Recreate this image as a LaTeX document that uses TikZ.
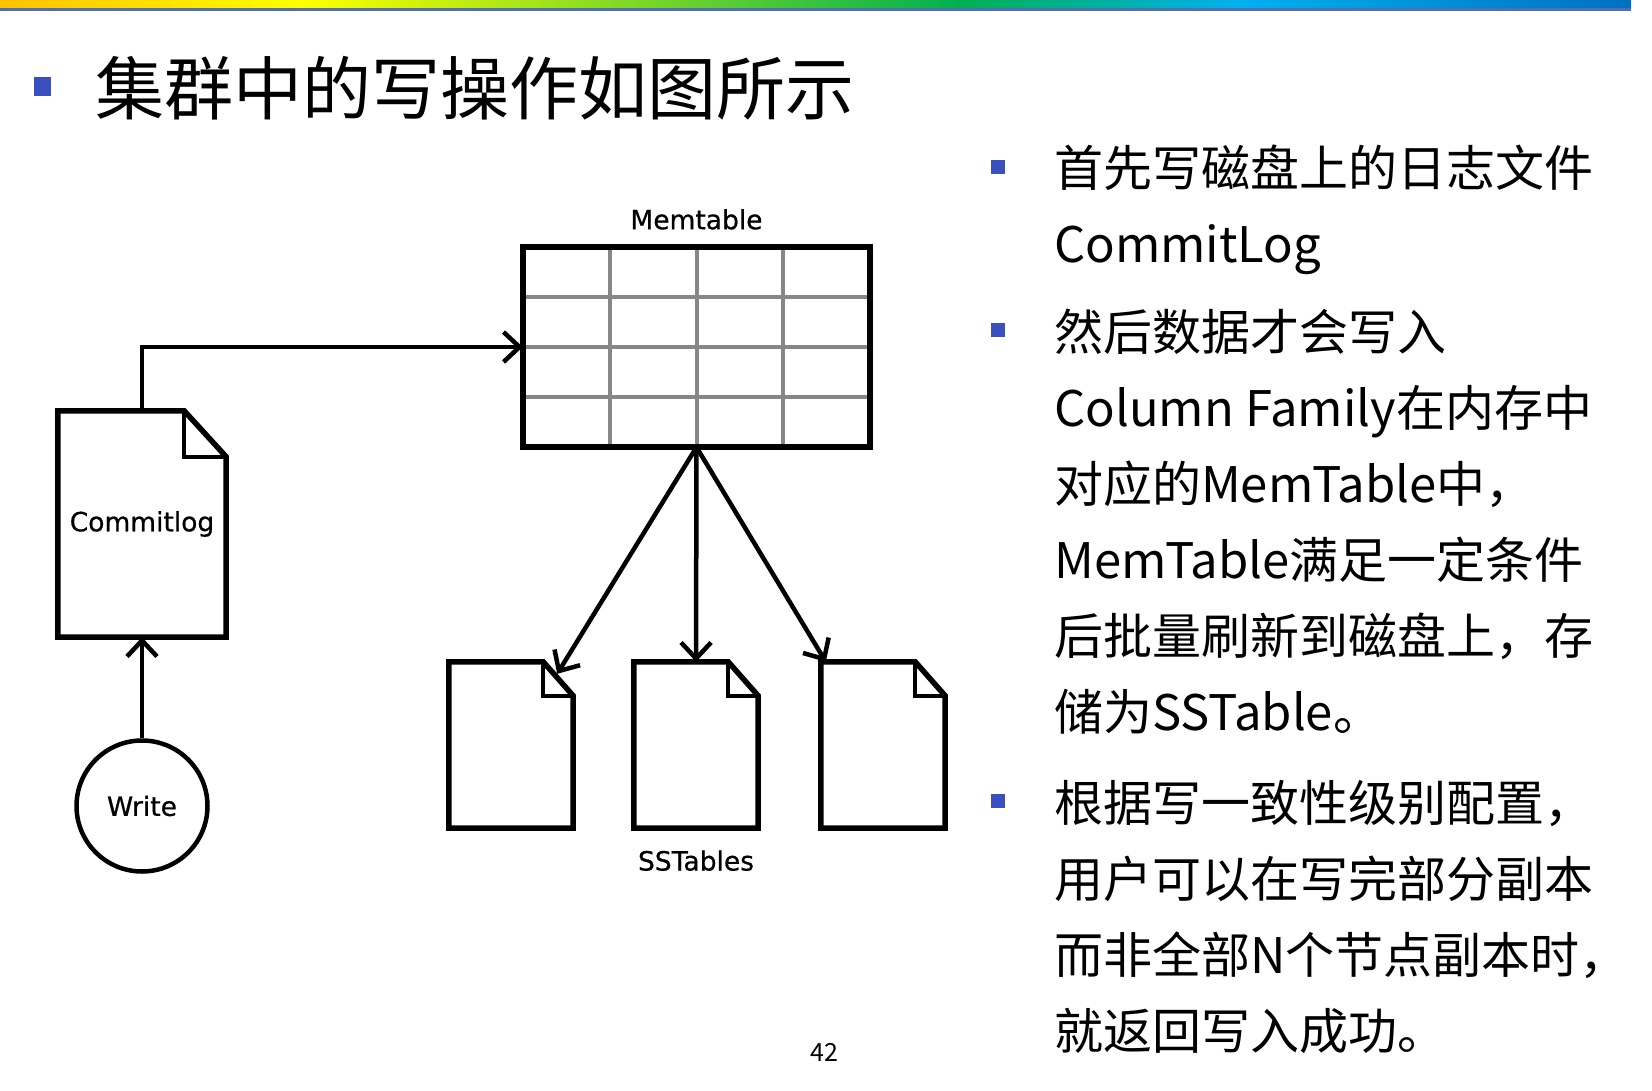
\documentclass[tikz,border=0pt]{standalone}
\usepackage{fontspec}
\setmainfont{Noto Sans CJK SC}
\newfontfamily\labelfont{DejaVu Sans}[FakeBold=0.6]
\usetikzlibrary{arrows.meta,positioning,calc}

\definecolor{barorange}{RGB}{255,192,0}
\definecolor{baryellow}{RGB}{255,255,0}
\definecolor{bargreen}{RGB}{0,176,80}
\definecolor{barcyan}{RGB}{0,176,240}
\definecolor{barblue}{RGB}{0,112,192}
\definecolor{barline}{RGB}{79,110,180}
\definecolor{bulletblue}{RGB}{58,80,190}
\definecolor{gridgray}{RGB}{135,135,135}

\tikzset{
  page/.style={inner sep=0pt, font=\labelfont\fontsize{26.5}{30}\selectfont},
  lbl/.style={inner sep=0pt, font=\labelfont\fontsize{26.5}{30}\selectfont},
  flow/.style={line width=4.5pt, -{Straight Barb[length=16pt,width=30pt]}},
  gridline/.style={gridgray, line width=4pt},
  point/.style={fill=bulletblue, inner sep=0pt, minimum width=14pt, minimum height=14pt},
  txt/.style={anchor=base west, inner sep=0pt, font=\fontsize{49}{59}\selectfont},
}

% page with a folded top right corner
\newcommand{\foldpage}[3]{%
  \draw[line width=5.5pt, line join=miter] (#1.north west) -- ([xshift=-#2]#1.north east)
    -- ([yshift=-#3]#1.north east) -- (#1.south east) -- (#1.south west) -- cycle;
  \draw[line width=4.5pt] ([xshift=-#2]#1.north east) |- ([yshift=-#3]#1.north east);
}

\begin{document}
\begin{tikzpicture}[x=1pt, y=-1pt]
    \useasboundingbox (0,0) rectangle (1652,1091);
    \fill[white] (0,0) rectangle (1652,1091);
    % Barra de color
    \shade[left color=barorange, right color=baryellow] (0,0) rectangle (300,8.5);
    \shade[left color=baryellow, right color=bargreen] (299,0) rectangle (960,8.5);
    \shade[left color=bargreen, right color=barcyan] (959,0) rectangle (1240,8.5);
    \shade[left color=barcyan, right color=barblue] (1239,0) rectangle (1631,8.5);
    \fill[barline] (0,8.5) rectangle (1631,11);

    % Titulo
    \node[point, minimum width=17pt, minimum height=19pt] (tbullet) at (42,87) {};
    \node[anchor=base west, inner sep=0pt, font=\fontsize{69}{80}\selectfont] (title) at (95,115) {集群中的写操作如图所示};

    % Memtable
    \node[minimum width=347pt, minimum height=200pt, inner sep=0pt] (mem) at (696.5,347) {};
    \foreach \i in {1,2,3} {
        \draw[gridline] ($(mem.north west)!\i/4!(mem.north east)$) -- ($(mem.south west)!\i/4!(mem.south east)$);
        \draw[gridline] ($(mem.north west)!\i/4!(mem.south west)$) -- ($(mem.north east)!\i/4!(mem.south east)$);
    }
    \draw[line width=6pt] (mem.north west) rectangle (mem.south east);
    \node[lbl, above=17pt of mem] (memlbl) {Memtable};

    % Commitlog y Write
    \node[page, minimum width=168pt, minimum height=226pt] (clog) at (142,524) {Commitlog};
    \foldpage{clog}{42pt}{46pt}
    \node[circle, draw, line width=4.5pt, minimum size=131pt, lbl] (write) at (142,806) {Write};
    \draw[flow] (write) -- (clog);
    \draw[flow] (clog.north) |- (mem.west);

    % SSTables
    \node[page, minimum width=124pt, minimum height=166pt] (sst1) at (511,745) {};
    \node[page, minimum width=124pt, minimum height=166pt] (sst2) at (696,745) {};
    \node[page, minimum width=124pt, minimum height=166pt] (sst3) at (883,745) {};
    \foreach \s in {sst1,sst2,sst3} {
        \foldpage{\s}{30pt}{34pt}
    }
    \node[lbl, below=22pt of sst2] (sstlbl) {SSTables};
    \draw[flow] (mem.south) -- ([xshift=-16pt,yshift=-12pt]sst1.north east);
    \draw[flow] (mem.south) -- (sst2.north);
    \draw[flow] (mem.south) -- ([xshift=5pt]sst3.north west);

    % Texto a la derecha
    \node[point] (b1) at (998,167) {};
    \node[point] (b2) at (998,330) {};
    \node[point] (b3) at (998,801) {};
    \foreach \y/\t in {187/{首先写磁盘上的日志文件}, 263/{CommitLog},
        350/{然后数据才会写入}, 426/{Column Family在内存中}, 502/{对应的MemTable中，},
        578/{MemTable满足一定条件}, 654/{后批量刷新到磁盘上，存}, 730/{储为SSTable。},
        821/{根据写一致性级别配置，}, 897/{用户可以在写完部分副本},
        973/{而非全部N个节点副本时，}, 1049/{就返回写入成功。}} {
        \node[txt] (line\y) at (1054,\y) {\t};
    }

    % Numero de pagina
    \node[font=\fontsize{25}{28}\selectfont] (pnum) at (824,1052) {42};
\end{tikzpicture}
\end{document}
